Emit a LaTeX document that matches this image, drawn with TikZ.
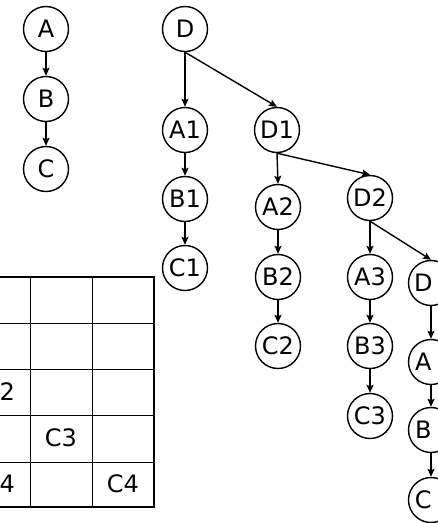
\documentclass[tikz,border=0pt]{standalone}
\usepackage{fontspec}
\setmainfont{DejaVu Sans}
\usepackage{tikz}
\usetikzlibrary{arrows.meta}

\begin{document}
\begin{tikzpicture}[
        x=1pt, y=-1pt,
        vertex/.style={circle, draw, line width=1.4pt, minimum size=45pt, inner sep=0pt,
            font=\fontsize{24}{28}\selectfont},
        link/.style={-{Stealth[length=8pt,width=7pt,inset=1.5pt]}, line width=1.4pt},
        cell/.style={font=\fontsize{24}{28}\selectfont, inner sep=0pt},
        grid line/.style={line width=1pt},
        frame/.style={line width=2.8pt}
    ]
    \useasboundingbox (0,0) rectangle (438,523);

    % LEFT CHAIN
    \node[vertex] (A) at (46,29) {A};
    \node[vertex] (B) at (46,99) {B};
    \node[vertex] (C) at (46,169) {C};
    \draw[link] (A) -- (B);
    \draw[link] (B) -- (C);

    % TREE
    \node[vertex] (D) at (185,29) {D};
    \node[vertex] (A1) at (185,130) {A1};
    \node[vertex] (B1) at (185,199) {B1};
    \node[vertex] (C1) at (185,268) {C1};
    \node[vertex] (D1) at (277,130) {D1};
    \node[vertex] (A2) at (278,207) {A2};
    \node[vertex] (B2) at (278,277) {B2};
    \node[vertex] (C2) at (278,346) {C2};
    \node[vertex] (D2) at (370,198) {D2};
    \node[vertex] (A3) at (370,277) {A3};
    \node[vertex] (B3) at (370,346) {B3};
    \node[vertex] (C3) at (370,416) {C3};
    \node[vertex] (D3) at (431,283) {D\phantom{3}};
    \node[vertex] (A4) at (431,362) {A\phantom{4}};
    \node[vertex] (B4) at (431,430) {B\phantom{4}};
    \node[vertex] (C4) at (431,500) {C\phantom{4}};

    \draw[link] (D.south) -- (A1.north);
    \draw[link] (D.south) -- (D1.north);
    \draw[link] (A1) -- (B1);
    \draw[link] (B1) -- (C1);
    \draw[link] (D1.south) -- (A2.north);
    \draw[link] (D1.south) -- (D2.north);
    \draw[link] (A2) -- (B2);
    \draw[link] (B2) -- (C2);
    \draw[link] (D2.south) -- (A3.north);
    \draw[link] (D2.south) -- (D3.north);
    \draw[link] (A3) -- (B3);
    \draw[link] (B3) -- (C3);
    \draw[link] (D3) -- (A4);
    \draw[link] (A4) -- (B4);
    \draw[link] (B4) -- (C4);

    % TABLE
    \foreach \x in {30,92}
        \draw[grid line] (\x,277) -- (\x,507);
    \foreach \y in {323,369,415,462}
        \draw[grid line] (-32,\y) -- (154,\y);
    \draw[frame] (-32,277) rectangle (154,507);

    \node[cell] (t31) at (-1,392) {\phantom{C}2};
    \node[cell] (t42) at (61,438) {C3};
    \node[cell] (t51) at (-1,484) {\phantom{C}4};
    \node[cell] (t53) at (123,484) {C4};

\end{tikzpicture}
\end{document}
